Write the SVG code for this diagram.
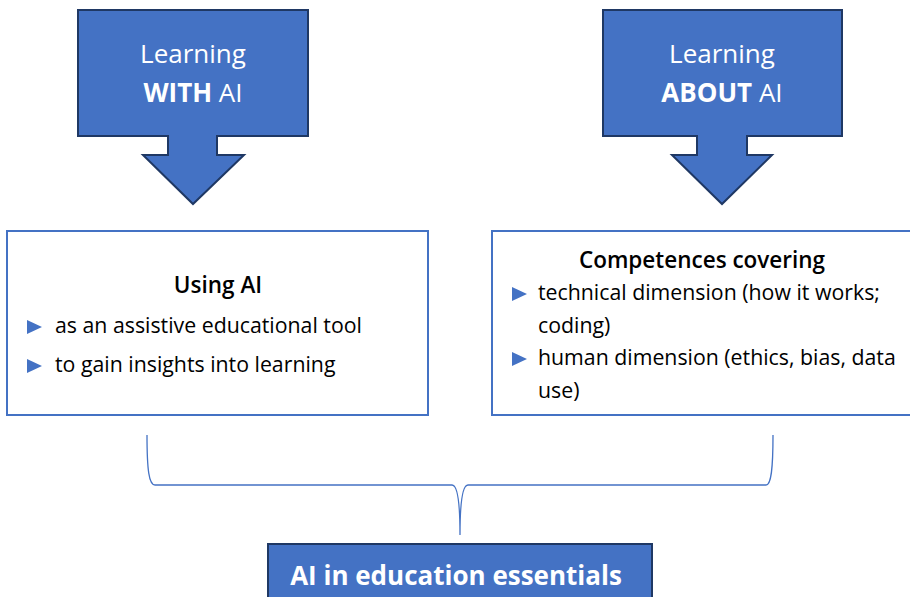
<svg xmlns="http://www.w3.org/2000/svg" width="910" height="597" viewBox="0 0 910 597">
<style>
.callout{fill:#4472C4;stroke:#1F3864;stroke-width:2;stroke-linejoin:miter}
.box{fill:#fff;stroke:#4472C4;stroke-width:2}
.wt{fill:#fff;font-family:"Open Sans","Noto Sans",sans-serif;font-size:26px;text-anchor:middle}
.hd{fill:#000;font-family:"Open Sans","Noto Sans",sans-serif;font-size:22.5px;font-weight:600;text-anchor:middle}
.bt{fill:#000;font-family:"Open Sans","Noto Sans",sans-serif;font-size:21.3px}
.bul{fill:#4472C4}
.brace{fill:none;stroke:#4472C4;stroke-width:1.3}
</style>
<defs>
<polygon id="tri" points="0,-7 15,0 0,7"/>
</defs>
<rect width="910" height="597" fill="#fff"/>
<g id="learning-with">
<path class="callout" d="M78,10 H308 V136 H217 V155 H244 L193,204 L143,155 H168 V136 H78 Z"/>
<text class="wt" x="193" y="63">Learning</text>
<text class="wt" x="193" y="102"><tspan font-weight="bold">WITH</tspan> AI</text>
</g>
<g id="learning-about">
<path class="callout" d="M603,10 H842 V136 H747 V155 H772 L722,204 L672,155 H697 V136 H603 Z"/>
<text class="wt" x="722" y="63">Learning</text>
<text class="wt" x="722" y="102"><tspan font-weight="bold">ABOUT</tspan> AI</text>
</g>
<g id="using-ai">
<rect class="box" x="7" y="231" width="421" height="184"/>
<text class="hd" x="218" y="293">Using AI</text>
<use href="#tri" class="bul" x="27" y="327"/>
<text class="bt" x="55" y="333">as an assistive educational tool</text>
<use href="#tri" class="bul" x="27" y="366"/>
<text class="bt" x="55" y="372">to gain insights into learning</text>
</g>
<g id="competences">
<rect class="box" x="492" y="231" width="425" height="184"/>
<text class="hd" x="702" y="268">Competences covering</text>
<use href="#tri" class="bul" x="512" y="294"/>
<text class="bt" x="538" y="300">technical dimension (how it works;</text>
<text class="bt" x="538" y="333">coding)</text>
<use href="#tri" class="bul" x="512" y="359"/>
<text class="bt" x="538" y="365">human dimension (ethics, bias, data</text>
<text class="bt" x="538" y="398">use)</text>
</g>
<g id="connectors">
<path class="brace" d="M147,435 C147,470 149,485 155,485 H452 C457,485 460,500 460,535 C460,500 463,485 468,485 H766 C771,485 773,470 773,435"/>
</g>
<g id="essentials">
<rect class="callout" x="268" y="544" width="384" height="60"/>
<text class="wt" x="456" y="585" font-weight="bold" font-size="27">AI in education essentials</text>
</g>
</svg>
